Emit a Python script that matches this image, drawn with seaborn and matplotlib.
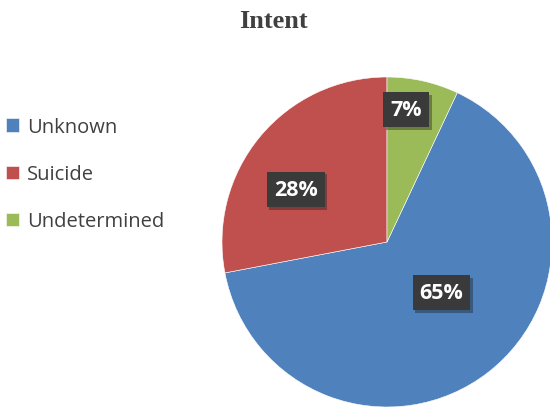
import numpy as np
import matplotlib.pyplot as plt
import matplotlib.patheffects as pe
import seaborn as sns

# data
categories = ["Unknown", "Suicide", "Undetermined"]
shares = [65, 28, 7]
colors = ["#4F81BD", "#C0504D", "#9BBB59"]

# label placement (fraction of radius, angle in degrees) like Excel best fit
label_r = [0.45, 0.64, 0.81]
label_ang = [-42.8, 150.0, 81.8]

sns.set_style("white")
plt.rcParams["font.family"] = ["Open Sans", "DejaVu Sans"]

fig = plt.figure(figsize=(5.5, 4.1), dpi=100)
ax = fig.add_axes([222 / 550, 2 / 410, 330 / 550, 330 / 410])

start = 90 - shares[2] / sum(shares) * 360
wedges, texts, autotexts = ax.pie(
    shares, colors=colors, startangle=start, counterclock=False,
    radius=1.0, autopct="%d%%",
    wedgeprops=dict(edgecolor="white", linewidth=0.4),
    textprops=dict(color="white", fontsize=15.5, fontweight="bold"),
)
ax.set_xlim(-1, 1)
ax.set_ylim(-1, 1)
ax.set_aspect("equal")

for t, r, a in zip(autotexts, label_r, label_ang):
    t.set_position((r * np.cos(np.radians(a)), r * np.sin(np.radians(a))))
    t.set_bbox(dict(boxstyle="square,pad=0.33", facecolor="#3a3a3a", edgecolor="none"))
    t.get_bbox_patch().set_path_effects(
        [pe.SimplePatchShadow(offset=(2, -2), alpha=0.35), pe.Normal()])

fig.text(273 / 550, 1 - 21 / 410, "Intent", ha="center", va="center",
         fontsize=19, fontweight="bold", color="#404040",
         family="Liberation Serif")

fig.legend(wedges, categories, loc="upper left", bbox_to_anchor=(0.0, 1 - 112 / 410),
           frameon=False, fontsize=14.5, labelcolor="#404040",
           handlelength=0.63, handleheight=0.63, handletextpad=0.4,
           labelspacing=1.35, borderaxespad=0, borderpad=0.3)

fig.savefig("out.png", dpi=100)
